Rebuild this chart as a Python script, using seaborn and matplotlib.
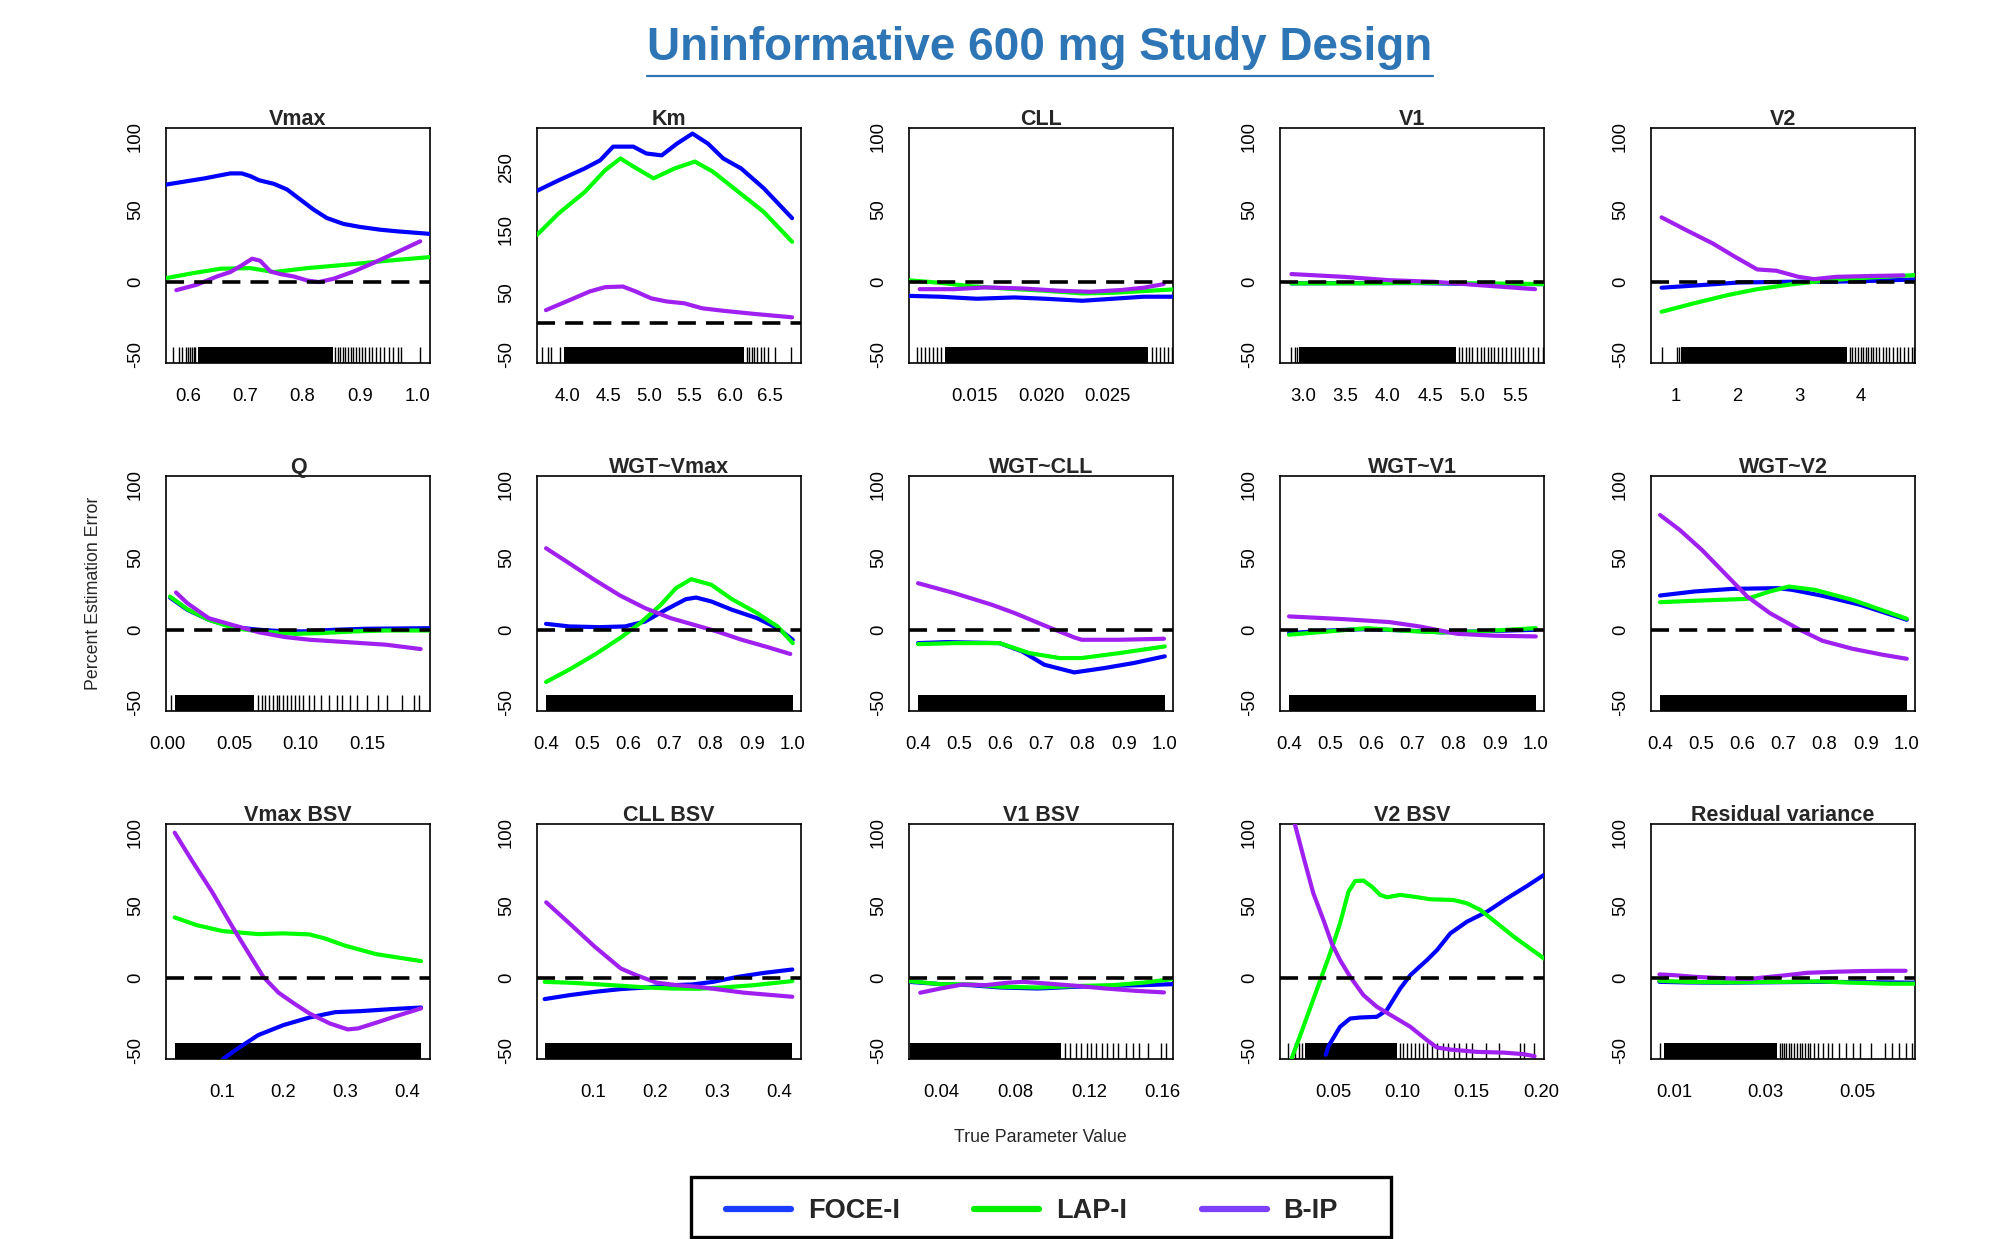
"""
Percent estimation error vs. true parameter value, 15 panels
(uninformative 600 mg study design)
"""

import numpy as np
import pandas as pd
import matplotlib
matplotlib.use('Agg')  # no display
import matplotlib.pyplot as plt
import seaborn as sns
from matplotlib.lines import Line2D
from matplotlib.patches import Rectangle


METHODS = ['FOCE-I', 'LAP-I', 'B-IP']
LINE_COLORS = {'FOCE-I': '#0000FF', 'LAP-I': '#00FF00', 'B-IP': '#A020F0'}
LEGEND_COLORS = ['#1A3DFF', '#00F000', '#7D3FF8']

# ---- Vmax ----
vmax_x_foce = [0.562, 0.628, 0.674, 0.694, 0.709, 0.724, 0.750, 0.773, 0.796, 0.819, 0.842, 0.871, 0.900, 0.935, 0.964, 1.022]
vmax_y_foce = [67.0, 71.2, 74.7, 74.7, 72.8, 70.0, 67.5, 63.6, 56.7, 49.8, 44.0, 39.9, 37.8, 35.9, 34.8, 33.0]
vmax_x_lap = [0.562, 0.610, 0.657, 0.709, 0.750, 0.808, 0.889, 0.947, 1.022]
vmax_y_lap = [2.5, 6.0, 9.0, 9.4, 6.7, 9.4, 12.2, 14.5, 17.0]
vmax_x_bip = [0.580, 0.616, 0.651, 0.674, 0.694, 0.712, 0.726, 0.744, 0.761, 0.784, 0.808, 0.828, 0.854, 0.889, 0.923, 0.964, 1.005]
vmax_y_bip = [-5.8, -2.0, 3.7, 6.7, 11.3, 15.9, 14.5, 7.1, 5.3, 3.7, 0.9, -0.2, 2.1, 7.1, 12.9, 20.3, 27.9]
vmax_rug_dense = [(0.618, 0.853)]
vmax_rug = [0.575, 0.584, 0.590, 0.596, 0.600, 0.604, 0.607, 0.610, 0.613, 0.857, 0.861, 0.866, 0.870,
            0.874, 0.879, 0.884, 0.888, 0.893, 0.898, 0.903, 0.909, 0.915, 0.921, 0.928, 0.935, 0.942,
            0.950, 0.958, 0.966, 0.972, 1.005]

# ---- Km ----
km_x_foce = [3.62, 3.89, 4.21, 4.40, 4.56, 4.81, 4.97, 5.16, 5.35, 5.54, 5.73, 5.92, 6.14, 6.42, 6.77]
km_y_foce = [213, 230, 249, 262, 284, 284, 273, 270, 289, 305, 289, 265, 249, 217, 169]
km_x_lap = [3.62, 3.89, 4.21, 4.46, 4.65, 4.81, 5.06, 5.32, 5.57, 5.79, 6.11, 6.42, 6.77]
km_y_lap = [142, 177, 211, 246, 265, 252, 233, 249, 260, 244, 211, 179, 131]
km_x_bip = [3.73, 4.02, 4.27, 4.46, 4.68, 4.84, 5.03, 5.22, 5.44, 5.66, 5.92, 6.30, 6.77]
km_y_bip = [21, 37, 51, 58, 59, 51, 40, 35, 32, 24, 20, 15, 9.5]
km_rug_dense = [(3.95, 6.18)]
km_rug = [3.68, 3.76, 3.79, 3.91, 6.21, 6.24, 6.27, 6.30, 6.34, 6.38, 6.42, 6.47, 6.56, 6.76]

# ---- CLL ----
cll_x_foce = [0.0100, 0.0124, 0.0152, 0.0180, 0.0203, 0.0231, 0.0254, 0.0277, 0.0299]
cll_y_foce = [-9.7, -10.3, -11.7, -10.8, -11.7, -13.1, -11.7, -10.3, -10.3]
cll_x_lap = [0.0100, 0.0124, 0.0147, 0.0175, 0.0203, 0.0231, 0.0254, 0.0277, 0.0299]
cll_y_lap = [1.1, -0.7, -3.0, -4.8, -6.2, -8.0, -7.6, -6.4, -5.3]
cll_x_bip = [0.0109, 0.0135, 0.0158, 0.0186, 0.0214, 0.0237, 0.0260, 0.0277, 0.0292]
cll_y_bip = [-5.1, -5.1, -3.9, -4.6, -6.2, -6.9, -5.7, -4.1, -1.6]
cll_rug_dense = [(0.0128, 0.0280)]
cll_rug = [0.0107, 0.0110, 0.0113, 0.0116, 0.0119, 0.0122, 0.0125, 0.0283, 0.0286, 0.0289, 0.0292, 0.0295, 0.0298]

# ---- V1 ----
v1_x_foce = [2.86, 3.48, 4.37, 5.07, 5.85]
v1_y_foce = [-1.1, -0.9, -0.9, -1.6, -1.6]
v1_x_lap = [2.86, 3.66, 4.37, 5.07, 5.85]
v1_y_lap = [-1.1, -1.1, -0.7, -1.1, -1.6]
v1_x_bip = [2.86, 3.48, 4.01, 4.54, 5.07, 5.74]
v1_y_bip = [5.3, 3.4, 1.1, 0.0, -2.3, -5.1]
v1_rug_dense = [(2.95, 4.80)]
v1_rug = [2.86, 2.90, 2.93, 4.84, 4.88, 4.92, 4.96, 5.00, 5.05, 5.10, 5.14, 5.18, 5.22, 5.26, 5.30,
          5.35, 5.40, 5.45, 5.50, 5.55, 5.60, 5.66, 5.72, 5.78, 5.83]

# ---- V2 ----
v2_x_foce = [0.77, 1.41, 2.02, 2.87, 3.48, 4.09, 4.88]
v2_y_foce = [-4.1, -2.3, -0.5, 0.0, 0.0, 0.5, 1.6]
v2_x_lap = [0.77, 1.29, 1.84, 2.32, 2.87, 3.48, 4.09, 4.88]
v2_y_lap = [-20.7, -14.9, -9.2, -5.1, -1.8, 1.1, 2.8, 4.6]
v2_x_bip = [0.77, 1.17, 1.60, 1.96, 2.32, 2.63, 2.99, 3.24, 3.60, 4.09, 4.69]
v2_y_bip = [44.4, 35.6, 26.4, 17.2, 8.5, 7.6, 3.4, 1.8, 3.4, 3.9, 4.4]
v2_rug_dense = [(1.08, 3.78)]
v2_rug = [0.77, 1.02, 1.05, 3.82, 3.86, 3.90, 3.95, 4.00, 4.04, 4.08, 4.12, 4.16, 4.20, 4.25, 4.30,
          4.35, 4.40, 4.46, 4.52, 4.58, 4.64, 4.70, 4.76, 4.82, 4.86]

# ---- Q ----
q_x_foce = [0.002, 0.015, 0.031, 0.050, 0.069, 0.088, 0.103, 0.126, 0.149, 0.197]
q_y_foce = [22.2, 13.8, 6.9, 1.8, 0.0, -1.1, -1.1, 0.0, 0.7, 1.1]
q_x_lap = [0.002, 0.015, 0.031, 0.050, 0.069, 0.096, 0.115, 0.141, 0.164, 0.197]
q_y_lap = [22.9, 14.2, 6.9, 1.1, -1.1, -2.8, -2.3, -1.1, -0.5, -0.5]
q_x_bip = [0.0065, 0.015, 0.031, 0.050, 0.069, 0.088, 0.107, 0.134, 0.164, 0.190]
q_y_bip = [25.7, 18.3, 8.0, 3.0, -1.8, -5.0, -6.9, -8.5, -10.3, -13.3]
q_rug_dense = [(0.006, 0.065)]
q_rug = [0.003, 0.068, 0.071, 0.073, 0.076, 0.079, 0.082, 0.084, 0.087, 0.090, 0.093, 0.096, 0.099,
         0.102, 0.106, 0.110, 0.115, 0.121, 0.127, 0.131, 0.137, 0.142, 0.150, 0.158, 0.165, 0.176,
         0.185, 0.189]

# ---- WGT~Vmax ----
wv_x_foce = [0.400, 0.456, 0.530, 0.592, 0.641, 0.691, 0.740, 0.765, 0.802, 0.852, 0.913, 0.963, 1.000]
wv_y_foce = [4.1, 2.3, 1.8, 2.3, 5.7, 13.8, 21.1, 22.2, 19.5, 13.8, 8.0, 1.1, -6.9]
wv_x_lap = [0.400, 0.456, 0.518, 0.580, 0.629, 0.679, 0.716, 0.753, 0.802, 0.852, 0.913, 0.963, 1.000]
wv_y_lap = [-36.0, -27.5, -17.2, -5.7, 4.6, 17.2, 28.7, 34.9, 31.0, 21.1, 11.5, 2.3, -9.2]
wv_x_bip = [0.400, 0.456, 0.518, 0.580, 0.641, 0.703, 0.765, 0.815, 0.876, 0.938, 0.994]
wv_y_bip = [56.2, 45.9, 34.4, 23.6, 14.9, 8.0, 3.0, -1.1, -6.9, -11.9, -16.7]

# ---- WGT~CLL ----
wc_x_foce = [0.400, 0.471, 0.598, 0.653, 0.707, 0.780, 0.853, 0.925, 1.000]
wc_y_foce = [-9.2, -8.5, -9.2, -14.9, -24.1, -29.4, -26.4, -22.9, -18.3]
wc_x_lap = [0.400, 0.489, 0.598, 0.671, 0.744, 0.798, 0.889, 1.000]
wc_y_lap = [-9.9, -9.2, -9.2, -16.1, -19.5, -19.5, -16.1, -11.5]
wc_x_bip = [0.400, 0.489, 0.580, 0.635, 0.707, 0.780, 0.798, 0.889, 0.998]
wc_y_bip = [32.1, 25.2, 17.2, 11.5, 3.0, -5.3, -6.9, -6.9, -6.2]

# ---- WGT~V1 ----
wv1_x_foce = [0.400, 0.498, 0.590, 0.681, 0.772, 0.863, 1.000]
wv1_y_foce = [-2.3, -0.5, 0.5, -0.5, -1.8, -1.1, 0.0]
wv1_x_lap = [0.400, 0.498, 0.590, 0.681, 0.772, 0.863, 1.000]
wv1_y_lap = [-3.4, -1.1, 1.1, -0.7, -1.8, -1.1, 1.1]
wv1_x_bip = [0.400, 0.535, 0.644, 0.717, 0.809, 0.900, 1.000]
wv1_y_bip = [9.2, 7.3, 5.3, 2.3, -2.8, -4.1, -4.6]

# ---- WGT~V2 ----
wv2_x_foce = [0.400, 0.484, 0.576, 0.686, 0.722, 0.795, 0.887, 1.000]
wv2_y_foce = [23.6, 26.4, 28.2, 28.7, 27.5, 23.4, 17.2, 6.9]
wv2_x_lap = [0.400, 0.502, 0.612, 0.667, 0.713, 0.777, 0.868, 1.000]
wv2_y_lap = [19.0, 20.2, 21.3, 26.4, 29.8, 27.5, 20.6, 7.6]
wv2_x_bip = [0.400, 0.448, 0.502, 0.557, 0.612, 0.667, 0.740, 0.795, 0.868, 0.941, 1.000]
wv2_y_bip = [79.1, 68.8, 55.0, 39.0, 22.9, 11.5, 0.0, -7.6, -13.1, -17.2, -20.0]

wgt_rug_dense = [(0.400, 1.000)]

# ---- Vmax BSV ----
vb_x_foce = [0.092, 0.103, 0.126, 0.159, 0.200, 0.242, 0.284, 0.325, 0.375, 0.423]
vb_y_foce = [-62.0, -55.6, -48.7, -39.5, -32.6, -27.4, -23.7, -23.0, -21.6, -20.5]
vb_x_lap = [0.0235, 0.059, 0.101, 0.159, 0.200, 0.242, 0.267, 0.300, 0.350, 0.423]
vb_y_lap = [41.6, 36.3, 32.2, 30.1, 30.6, 29.9, 27.1, 22.1, 16.3, 11.5]
vb_x_bip = [0.0235, 0.051, 0.084, 0.117, 0.142, 0.167, 0.192, 0.217, 0.242, 0.275, 0.304, 0.321, 0.350, 0.383, 0.423]
vb_y_bip = [100.0, 81.1, 59.3, 35.2, 17.9, 0.7, -10.3, -17.7, -24.6, -31.5, -35.6, -34.9, -31.0, -26.4, -21.1]
vb_rug_dense = [(0.024, 0.423)]

# ---- CLL BSV ----
cb_x_foce = [0.022, 0.062, 0.103, 0.145, 0.186, 0.228, 0.261, 0.294, 0.335, 0.377, 0.422]
cb_y_foce = [-14.7, -12.0, -9.7, -7.8, -6.7, -5.1, -4.6, -2.8, 0.7, 3.4, 5.7]
cb_x_lap = [0.022, 0.062, 0.103, 0.145, 0.186, 0.228, 0.269, 0.310, 0.360, 0.422]
cb_y_lap = [-2.8, -3.4, -4.4, -5.5, -6.7, -7.4, -7.6, -6.7, -5.1, -2.3]
cb_x_bip = [0.0246, 0.062, 0.103, 0.145, 0.170, 0.203, 0.236, 0.269, 0.302, 0.344, 0.422]
cb_y_bip = [52.0, 37.5, 21.4, 6.4, 1.8, -3.4, -5.1, -6.2, -8.0, -10.3, -13.1]
cb_rug_dense = [(0.022, 0.422)]

# ---- V1 BSV ----
v1b_x_foce = [0.0225, 0.0396, 0.0559, 0.0721, 0.0925, 0.1128, 0.1332, 0.1494, 0.1657]
v1b_y_foce = [-2.8, -4.4, -5.1, -6.7, -7.4, -6.2, -5.5, -5.1, -4.4]
v1b_x_lap = [0.0225, 0.0396, 0.0559, 0.0721, 0.0925, 0.1128, 0.1332, 0.1494, 0.1657]
v1b_y_lap = [-2.3, -4.4, -4.6, -6.2, -6.7, -5.7, -5.1, -3.4, -0.9]
v1b_x_bip = [0.0286, 0.0396, 0.0518, 0.0640, 0.0762, 0.0843, 0.0965, 0.1128, 0.1291, 0.1454, 0.1608]
v1b_y_bip = [-10.3, -7.4, -4.6, -5.1, -3.4, -2.8, -3.9, -5.5, -7.4, -9.0, -10.1]
v1b_rug_dense = [(0.0233, 0.105)]
v1b_rug = [0.107, 0.110, 0.113, 0.116, 0.119, 0.121, 0.124, 0.127, 0.130, 0.133, 0.136, 0.140,
           0.144, 0.147, 0.152, 0.159, 0.162]

# ---- V2 BSV ----
v2b_x_foce = [0.0445, 0.0464, 0.0548, 0.0621, 0.0693, 0.0814, 0.0886, 0.0983, 0.1056, 0.1176, 0.1249,
              0.1345, 0.1466, 0.1611, 0.1756, 0.1900, 0.2022]
v2b_y_foce = [-53.0, -47.2, -33.8, -28.1, -27.4, -26.9, -22.3, -7.4, 1.8, 12.2, 19.1,
              30.6, 38.7, 45.6, 54.8, 63.3, 70.9]
v2b_x_lap = [0.0198, 0.0283, 0.0379, 0.0476, 0.0548, 0.0609, 0.0657, 0.0717, 0.0778, 0.0838, 0.0886,
             0.0983, 0.1080, 0.1200, 0.1369, 0.1466, 0.1563, 0.1659, 0.1804, 0.2022]
v2b_y_lap = [-55.7, -33.8, -8.5, 16.8, 37.5, 59.4, 66.7, 67.0, 62.8, 57.1, 55.5,
             57.1, 55.9, 54.1, 53.6, 51.3, 46.7, 39.4, 28.3, 13.3]
v2b_x_bip = [0.0210, 0.0283, 0.0355, 0.0428, 0.0488, 0.0548, 0.0621, 0.0717, 0.0814, 0.0935, 0.1056,
             0.1176, 0.1249, 0.1345, 0.1539, 0.1732, 0.1877, 0.1954]
v2b_y_bip = [110.0, 83.5, 58.2, 39.8, 23.7, 12.2, 0.7, -12.0, -20.0, -26.9, -33.8,
             -43.0, -48.1, -49.5, -51.1, -51.6, -52.7, -54.1]
v2b_rug_dense = [(0.0295, 0.096)]
v2b_rug = [0.0175, 0.022, 0.025, 0.027, 0.098, 0.100, 0.103, 0.106, 0.109, 0.112, 0.115, 0.118,
           0.121, 0.125, 0.129, 0.133, 0.137, 0.141, 0.146, 0.150, 0.160, 0.170, 0.185, 0.188, 0.195]

# ---- Residual variance ----
rv_x_foce = [0.0068, 0.0128, 0.0201, 0.0273, 0.0346, 0.0419, 0.0492, 0.0565, 0.0626]
rv_y_foce = [-2.8, -3.2, -3.4, -3.2, -3.0, -2.8, -3.0, -3.2, -3.4]
rv_x_lap = [0.0068, 0.0128, 0.0201, 0.0273, 0.0346, 0.0419, 0.0492, 0.0565, 0.0626]
rv_y_lap = [-2.1, -2.8, -3.2, -3.0, -2.8, -2.5, -3.4, -4.1, -4.1]
rv_x_bip = [0.0068, 0.0099, 0.0142, 0.0186, 0.0230, 0.0263, 0.0295, 0.0346, 0.0390, 0.0448, 0.0507, 0.0565, 0.0605]
rv_y_bip = [2.3, 1.8, 0.7, 0.0, -0.5, -0.9, 0.2, 1.8, 3.4, 4.1, 4.6, 4.8, 4.8]
rv_rug_dense = [(0.0077, 0.0325)]
rv_rug = [0.0070, 0.0330, 0.0335, 0.0340, 0.0345, 0.0350, 0.0356, 0.0362, 0.0368, 0.0374, 0.0380,
          0.0386, 0.0392, 0.0397, 0.0405, 0.0415, 0.0425, 0.0435, 0.0445, 0.0460, 0.0475, 0.0490,
          0.0505, 0.0530, 0.0560, 0.0575, 0.0590, 0.0605, 0.0620]

# tick values / labels
std_yticks = [-50, 0, 50, 100]
std_ylabels = ['-50', '0', '50', '100']
km_yticks = [-50, 0, 50, 100, 150, 200, 250, 300]
km_ylabels = ['-50', '', '50', '', '150', '', '250', '']
wgt_xticks = [0.4, 0.5, 0.6, 0.7, 0.8, 0.9, 1.0]
wgt_xlabels = ['0.4', '0.5', '0.6', '0.7', '0.8', '0.9', '1.0']


def curves(xf, yf, xl, yl, xb, yb):
    return {'FOCE-I': (xf, yf), 'LAP-I': (xl, yl), 'B-IP': (xb, yb)}


PANELS = [
    dict(title='Vmax', data=curves(vmax_x_foce, vmax_y_foce, vmax_x_lap, vmax_y_lap, vmax_x_bip, vmax_y_bip),
         xlim=(0.562, 1.022), xticks=[0.6, 0.7, 0.8, 0.9, 1.0], xlabels=['0.6', '0.7', '0.8', '0.9', '1.0'],
         dense=vmax_rug_dense, rug=vmax_rug),
    dict(title='Km', data=curves(km_x_foce, km_y_foce, km_x_lap, km_y_lap, km_x_bip, km_y_bip),
         xlim=(3.62, 6.88), xticks=[4.0, 4.5, 5.0, 5.5, 6.0, 6.5],
         xlabels=['4.0', '4.5', '5.0', '5.5', '6.0', '6.5'],
         dense=km_rug_dense, rug=km_rug, ylim=(-64, 314), yticks=km_yticks, ylabels=km_ylabels),
    dict(title='CLL', data=curves(cll_x_foce, cll_y_foce, cll_x_lap, cll_y_lap, cll_x_bip, cll_y_bip),
         xlim=(0.0101, 0.0299), xticks=[0.015, 0.020, 0.025], xlabels=['0.015', '0.020', '0.025'],
         dense=cll_rug_dense, rug=cll_rug),
    dict(title='V1', data=curves(v1_x_foce, v1_y_foce, v1_x_lap, v1_y_lap, v1_x_bip, v1_y_bip),
         xlim=(2.725, 5.846), xticks=[3.0, 3.5, 4.0, 4.5, 5.0, 5.5],
         xlabels=['3.0', '3.5', '4.0', '4.5', '5.0', '5.5'], dense=v1_rug_dense, rug=v1_rug),
    dict(title='V2', data=curves(v2_x_foce, v2_y_foce, v2_x_lap, v2_y_lap, v2_x_bip, v2_y_bip),
         xlim=(0.599, 4.876), xticks=[1, 2, 3, 4], xlabels=['1', '2', '3', '4'],
         dense=v2_rug_dense, rug=v2_rug),
    dict(title='Q', data=curves(q_x_foce, q_y_foce, q_x_lap, q_y_lap, q_x_bip, q_y_bip),
         xlim=(-0.001, 0.197), xticks=[0.0, 0.05, 0.10, 0.15], xlabels=['0.00', '0.05', '0.10', '0.15'],
         dense=q_rug_dense, rug=q_rug),
    dict(title='WGT~Vmax', data=curves(wv_x_foce, wv_y_foce, wv_x_lap, wv_y_lap, wv_x_bip, wv_y_bip),
         xlim=(0.378, 1.02), xticks=wgt_xticks, xlabels=wgt_xlabels, dense=wgt_rug_dense, rug=[]),
    dict(title='WGT~CLL', data=curves(wc_x_foce, wc_y_foce, wc_x_lap, wc_y_lap, wc_x_bip, wc_y_bip),
         xlim=(0.378, 1.02), xticks=wgt_xticks, xlabels=wgt_xlabels, dense=wgt_rug_dense, rug=[]),
    dict(title='WGT~V1', data=curves(wv1_x_foce, wv1_y_foce, wv1_x_lap, wv1_y_lap, wv1_x_bip, wv1_y_bip),
         xlim=(0.378, 1.02), xticks=wgt_xticks, xlabels=wgt_xlabels, dense=wgt_rug_dense, rug=[]),
    dict(title='WGT~V2', data=curves(wv2_x_foce, wv2_y_foce, wv2_x_lap, wv2_y_lap, wv2_x_bip, wv2_y_bip),
         xlim=(0.378, 1.02), xticks=wgt_xticks, xlabels=wgt_xlabels, dense=wgt_rug_dense, rug=[]),
    dict(title='Vmax BSV', data=curves(vb_x_foce, vb_y_foce, vb_x_lap, vb_y_lap, vb_x_bip, vb_y_bip),
         xlim=(0.0094, 0.4375), xticks=[0.1, 0.2, 0.3, 0.4], xlabels=['0.1', '0.2', '0.3', '0.4'],
         dense=vb_rug_dense, rug=[]),
    dict(title='CLL BSV', data=curves(cb_x_foce, cb_y_foce, cb_x_lap, cb_y_lap, cb_x_bip, cb_y_bip),
         xlim=(0.0097, 0.436), xticks=[0.1, 0.2, 0.3, 0.4], xlabels=['0.1', '0.2', '0.3', '0.4'],
         dense=cb_rug_dense, rug=[]),
    dict(title='V1 BSV', data=curves(v1b_x_foce, v1b_y_foce, v1b_x_lap, v1b_y_lap, v1b_x_bip, v1b_y_bip),
         xlim=(0.0225, 0.1657), xticks=[0.04, 0.06, 0.08, 0.10, 0.12, 0.14, 0.16],
         xlabels=['0.04', '', '0.08', '', '0.12', '', '0.16'], dense=v1b_rug_dense, rug=v1b_rug),
    dict(title='V2 BSV', data=curves(v2b_x_foce, v2b_y_foce, v2b_x_lap, v2b_y_lap, v2b_x_bip, v2b_y_bip),
         xlim=(0.0114, 0.2022), xticks=[0.05, 0.10, 0.15, 0.20], xlabels=['0.05', '0.10', '0.15', '0.20'],
         dense=v2b_rug_dense, rug=v2b_rug),
    dict(title='Residual variance', data=curves(rv_x_foce, rv_y_foce, rv_x_lap, rv_y_lap, rv_x_bip, rv_y_bip),
         xlim=(0.00497, 0.06255), xticks=[0.01, 0.02, 0.03, 0.04, 0.05, 0.06],
         xlabels=['0.01', '', '0.03', '', '0.05', ''], dense=rv_rug_dense, rug=rv_rug),
]


def draw_panel(ax, p):
    frames = []
    for m in METHODS:
        xs, ys = p['data'][m]
        frames.append(pd.DataFrame({'x': xs, 'y': ys, 'method': m}))
    df = pd.concat(frames, ignore_index=True)

    # rug of true parameter values along the bottom
    rug_h = 0.068
    for a, b in p['dense']:
        ax.axvspan(a, b, ymin=0, ymax=rug_h, color='black', lw=0, zorder=1)
    if p['rug']:
        sns.rugplot(x=p['rug'], height=rug_h, color='black', lw=0.9, ax=ax, zorder=1)

    sns.lineplot(data=df, x='x', y='y', hue='method', hue_order=METHODS, palette=LINE_COLORS,
                 estimator=None, sort=False, lw=3.0, legend=False, ax=ax, zorder=3)
    ax.axhline(0, color='black', lw=2.6, ls=(0, (5, 2.8)), zorder=4)

    ax.set_xlim(*p['xlim'])
    ax.set_ylim(*p.get('ylim', (-56, 106)))
    ax.set_xticks(p['xticks'])
    ax.set_xticklabels(p['xlabels'])
    ax.set_yticks(p.get('yticks', std_yticks))
    ax.set_yticklabels(p.get('ylabels', std_ylabels), rotation=90, va='center')
    ax.set_xlabel('')
    ax.set_ylabel('')
    ax.set_title(p['title'], fontsize=15.5, fontweight='bold', pad=2.5)
    ax.tick_params(axis='both', direction='out', length=8, width=1.2, labelsize=13.3,
                   color='black', labelcolor='black')
    ax.tick_params(axis='x', pad=10)
    ax.tick_params(axis='y', pad=8)
    for s in ax.spines.values():
        s.set_visible(True)
        s.set_color('black')
        s.set_linewidth(1.2)


sns.set_theme(style='white')
plt.rcParams['font.family'] = ['Liberation Sans', 'DejaVu Sans']

W, H = 1991, 1239
fig = plt.figure(figsize=(W / 100, H / 100), dpi=100)
fig.patch.set_facecolor('white')

col_left = [166, 537, 909, 1280, 1651]
row_top = [128, 476, 824]
pw, ph = 264, 235

for i, p in enumerate(PANELS):
    r, c = divmod(i, 5)
    ax = fig.add_axes([col_left[c] / W, 1 - (row_top[r] + ph) / H, pw / W, ph / H])
    draw_panel(ax, p)

title = fig.text(1040 / W, 1 - 60 / H, 'Uninformative 600 mg Study Design', ha='center', va='baseline',
                 fontsize=33, fontweight='bold', color='#2E75B6')
fig.text(1040 / W, 1 - 1138 / H, 'True Parameter Value', ha='center', va='center', fontsize=12.8)
fig.text(93 / W, 1 - 593 / H, 'Percent Estimation Error', ha='center', va='center',
         rotation=90, fontsize=12.8)

handles = [Line2D([], [], color=c, lw=4.5) for c in LEGEND_COLORS]
fig.legend(handles, METHODS, loc='center left', bbox_to_anchor=(726 / W, 1 - 1211 / H),
           ncol=3, frameon=False, borderpad=0, borderaxespad=0, handlelength=2.4,
           handletextpad=0.62, columnspacing=2.75,
           prop={'size': 19.5, 'weight': 'bold'})
fig.add_artist(Rectangle((691 / W, 1 - 1237 / H), 700 / W, 60 / H, transform=fig.transFigure,
                         fill=False, lw=2.4, ec='black'))

# underline under the title
fig.canvas.draw()
bb = title.get_window_extent()
fig.add_artist(Line2D([bb.x0 / W, bb.x1 / W], [1 - 76 / H, 1 - 76 / H], transform=fig.transFigure,
                      color='#2E75B6', lw=1.6))

fig.savefig('out.png', dpi=100, facecolor='white')
